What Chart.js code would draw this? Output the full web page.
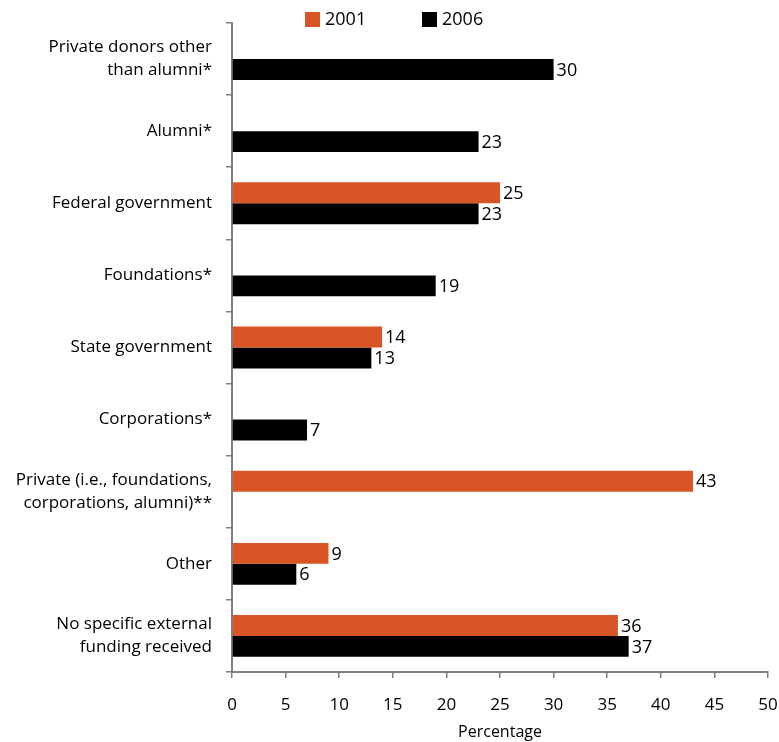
<!DOCTYPE html>
<html>
<head>
<meta charset="utf-8">
<title>Sources of external funding</title>
<script src="https://cdn.jsdelivr.net/npm/chart.js@4"></script>
<style>
  html, body { margin: 0; padding: 0; background: #fff; }
  #wrap { width: 779px; height: 742px; }
</style>
</head>
<body>
<div id="wrap"><canvas id="fundingChart"></canvas></div>
<script>
// categories, top to bottom
const categories = [
  ['Private donors other', 'than alumni*'],
  'Alumni*',
  'Federal government',
  'Foundations*',
  'State government',
  'Corporations*',
  ['Private (i.e., foundations,', 'corporations, alumni)**'],
  'Other',
  ['No specific external', 'funding received']
];
const values2001 = [null, null, 25, null, 14, null, 43, 9, 36];
const values2006 = [30, 23, 23, 19, 13, 7, null, 6, 37];
const xTicks = [0, 5, 10, 15, 20, 25, 30, 35, 40, 45, 50];

const FONT = '"Open Sans", sans-serif';
const ORANGE = '#d95525';
const AXIS = '#7f7f7f';

// writes the value just right of every bar
const barValues = {
  id: 'barValues',
  afterDatasetsDraw(chart) {
    const ctx = chart.ctx;
    ctx.save();
    ctx.font = '18px ' + FONT;
    ctx.fillStyle = '#000';
    ctx.textAlign = 'left';
    ctx.textBaseline = 'middle';
    chart.data.datasets.forEach((ds, i) => {
      chart.getDatasetMeta(i).data.forEach((bar, j) => {
        const v = ds.data[j];
        if (v === null) return;
        ctx.fillText(String(v), bar.x + 3, bar.y + 1);
      });
    });
    ctx.restore();
  }
};

// small legend sitting over the top of the plot
const topLegend = {
  id: 'topLegend',
  afterDraw(chart) {
    const ctx = chart.ctx;
    const pos = [305, 422];
    ctx.save();
    ctx.font = '18px ' + FONT;
    ctx.textBaseline = 'middle';
    chart.data.datasets.forEach((ds, i) => {
      ctx.fillStyle = ds.backgroundColor;
      ctx.fillRect(pos[i], 12, 15, 15);
      ctx.fillStyle = '#000';
      ctx.fillText(ds.label, pos[i] + 20, 20);
    });
    ctx.restore();
  }
};

new Chart(document.getElementById('fundingChart'), {
  type: 'bar',
  data: {
    labels: categories,
    datasets: [
      { label: '2001', data: values2001, backgroundColor: ORANGE },
      { label: '2006', data: values2006, backgroundColor: '#000' }
    ]
  },
  options: {
    indexAxis: 'y',
    responsive: true,
    maintainAspectRatio: false,
    animation: false,
    skipNull: false,
    categoryPercentage: 0.58,
    barPercentage: 1,
    layout: { padding: { top: 23, right: 11, left: 0, bottom: 0 } },
    plugins: {
      legend: { display: false },
      tooltip: { enabled: false }
    },
    scales: {
      x: {
        min: 0,
        max: 50,
        afterBuildTicks(scale) { scale.ticks = xTicks.map(v => ({ value: v })); },
        afterFit(scale) {
          scale.height = 70;
          scale.paddingLeft = 0;
          scale.paddingRight = 0;
        },
        border: { display: true, color: AXIS, width: 2 },
        grid: { display: true, drawOnChartArea: false, drawTicks: true, tickLength: 6, color: AXIS, lineWidth: 1.5 },
        ticks: { color: '#000', font: { family: FONT, size: 17 }, padding: 17, maxRotation: 0 },
        title: { display: true, text: 'Percentage', color: '#000', font: { family: FONT, size: 16 }, padding: { top: 2, bottom: 0 } }
      },
      y: {
        afterFit(scale) {
          scale.width = 232;
          scale.paddingTop = 0;
          scale.paddingBottom = 0;
        },
        border: { display: true, color: AXIS, width: 2 },
        grid: { display: true, offset: true, drawOnChartArea: false, drawTicks: true, tickLength: 6, color: AXIS, lineWidth: 1.5 },
        ticks: { color: '#000', font: { family: FONT, size: 17, lineHeight: 1.35 }, padding: 14 }
      }
    }
  },
  plugins: [barValues, topLegend]
});
</script>
</body>
</html>
